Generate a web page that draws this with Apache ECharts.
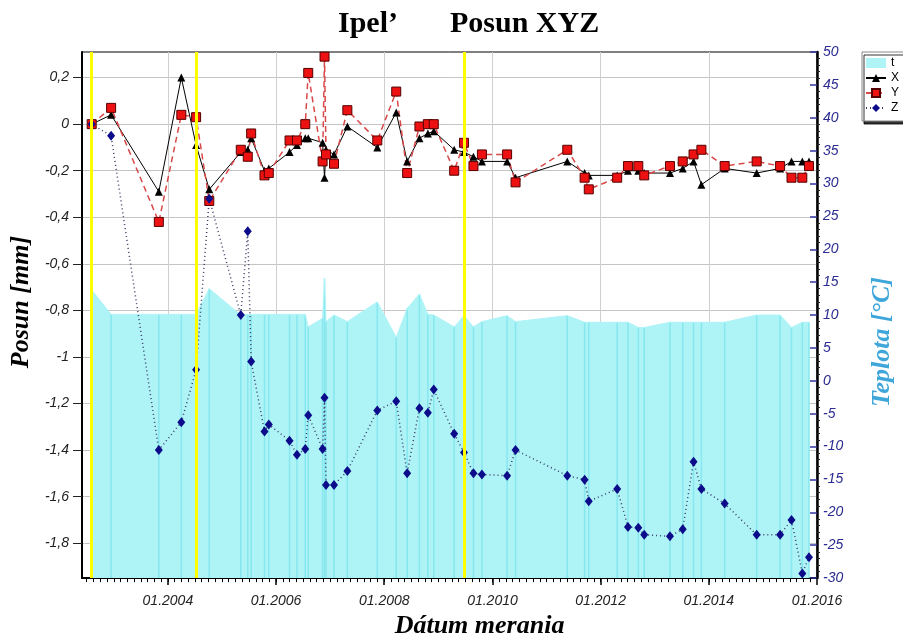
<!DOCTYPE html>
<html><head><meta charset="utf-8">
<script src="https://cdn.jsdelivr.net/npm/echarts@6/dist/echarts.min.js"></script>
<style>html,body{margin:0;padding:0;background:#fff}#c{width:903px;height:644px}</style>
</head><body><div id="c"></div>
<script>
// measurement dates
const dates = ['2002-08-05','2002-12-14','2003-11-01','2004-04-01','2004-07-10','2004-10-07','2005-05-08','2005-06-24','2005-07-17','2005-10-15','2005-11-13','2006-04-02','2006-05-22','2006-07-17','2006-08-06','2006-11-11','2006-11-24','2006-12-04','2007-01-27','2007-04-27','2007-11-15','2008-03-22','2008-06-04','2008-08-26','2008-10-22','2008-12-01','2009-04-18','2009-06-23','2009-08-26','2009-10-22','2010-04-10','2010-06-06','2011-05-21','2011-09-15','2011-10-13','2012-04-22','2012-07-04','2012-09-12','2012-10-22','2013-04-14','2013-07-09','2013-09-20','2013-11-12','2014-04-18','2014-11-20','2015-04-27','2015-07-13','2015-09-24','2015-11-08'];
// displacement [mm]
const posX = [0,0.04,-0.29,0.20,-0.09,-0.28,-0.12,-0.11,-0.06,-0.20,-0.19,-0.12,-0.09,-0.06,-0.06,-0.08,-0.23,-0.11,-0.13,-0.01,-0.10,0.05,-0.16,-0.06,-0.04,-0.03,-0.11,-0.12,-0.14,-0.16,-0.16,-0.23,-0.16,-0.21,-0.22,-0.22,-0.20,-0.20,-0.21,-0.21,-0.19,-0.16,-0.26,-0.19,-0.21,-0.19,-0.16,-0.16,-0.16];
const posY = [0,0.07,-0.42,0.04,0.03,-0.33,-0.11,-0.14,-0.04,-0.22,-0.21,-0.07,-0.07,0.0,0.22,-0.16,0.29,-0.13,-0.17,0.06,-0.07,0.14,-0.21,-0.01,0.0,0.0,-0.20,-0.08,-0.18,-0.13,-0.13,-0.25,-0.11,-0.23,-0.28,-0.23,-0.18,-0.18,-0.22,-0.18,-0.16,-0.13,-0.11,-0.18,-0.16,-0.18,-0.23,-0.23,-0.18];
const posZ = [0,-0.05,-1.40,-1.28,-1.055,-0.32,-0.82,-0.46,-1.02,-1.32,-1.29,-1.36,-1.42,-1.395,-1.25,-1.395,-1.175,-1.55,-1.55,-1.49,-1.23,-1.19,-1.50,-1.22,-1.24,-1.14,-1.33,-1.41,-1.50,-1.505,-1.51,-1.40,-1.51,-1.527,-1.62,-1.567,-1.73,-1.734,-1.764,-1.77,-1.74,-1.45,-1.567,-1.63,-1.764,-1.764,-1.70,-1.93,-1.86];
// temperature [°C]
const temp = [13.8,10.1,10.1,10.1,10.1,14.0,10.0,10.1,10.1,10.1,10.1,10.1,10.1,10.1,8.2,9.5,15.6,9.0,10.0,9.0,12.0,6.6,11.0,13.2,10.1,10.0,8.2,9.9,8.2,9.0,9.9,9.0,9.9,8.9,8.9,8.9,8.9,8.1,8.1,8.9,8.9,8.9,8.9,8.9,10.0,10.0,8.1,8.9,8.9];
// yellow event lines
const markDates = ['2002-08-05','2004-07-10','2009-06-23'];
// tick labels
const xTickYears = [2004,2006,2008,2010,2012,2014,2016];
const leftTicks = [-1.8,-1.6,-1.4,-1.2,-1,-0.8,-0.6,-0.4,-0.2,0,0.2];

const SANS = '"Liberation Sans", Arial, sans-serif';
const SERIF = '"Liberation Serif", "Times New Roman", serif';

function decYear(s){ const p=s.split('-').map(Number); const t=Date.UTC(p[0],p[1]-1,p[2]), t0=Date.UTC(p[0],0,1), t1=Date.UTC(p[0]+1,0,1); return p[0]+(t-t0)/(t1-t0); }
const xs = dates.map(decYear);
const pair = arr => xs.map((x,i)=>[x,arr[i]]);
const X_MIN = 2002.413, X_MAX = 2016;
const minorTicks = []; for (let v = 2002.5; v < X_MAX; v += 0.125) minorTicks.push(+v.toFixed(3));
const fmtL = v => String(+(+v).toFixed(2)).replace('.', ',');

const CYAN = '#aef4f7';
const nameStyle = {fontFamily: SERIF, fontSize: 26, fontWeight: 'bold', fontStyle: 'italic', color: '#000'};

const chart = echarts.init(document.getElementById('c'), null, {renderer: 'canvas'});
chart.setOption({
  animation: false,
  backgroundColor: '#fff',
  title: [
    {text: 'Ipel’', left: 333, top: 4, textStyle: {fontFamily: SERIF, fontSize: 30, fontWeight: 'bold', color: '#000'}},
    {text: 'Posun XYZ', left: 445, top: 4, textStyle: {fontFamily: SERIF, fontSize: 30, fontWeight: 'bold', color: '#000'}}
  ],
  legend: {
    orient: 'vertical', left: 862, top: 52, itemWidth: 20, itemHeight: 10, itemGap: 3,
    padding: [5, 6, 7, 3], backgroundColor: '#fff', borderColor: '#888', borderWidth: 1,
    shadowColor: 'rgba(0,0,0,0.8)', shadowOffsetX: 2, shadowOffsetY: 3, shadowBlur: 0,
    textStyle: {fontFamily: SANS, fontSize: 12, color: '#000'},
    data: [{name: 't', icon: 'rect', itemStyle: {color: CYAN}}, 'X', 'Y', 'Z']
  },
  grid: {left: 81, right: 77, top: 52, bottom: 64, show: true, borderColor: '#000', borderWidth: 1, backgroundColor: 'transparent'},
  xAxis: [
    {type: 'value', min: X_MIN, max: X_MAX, position: 'bottom',
     name: 'Dátum merania', nameLocation: 'middle', nameGap: 32,
     nameTextStyle: Object.assign({}, nameStyle, {padding: [0, 0, 0, 60]}),
     axisLine: {show: true, onZero: false, lineStyle: {color: '#000', width: 2}},
     axisTick: {show: true, customValues: xTickYears, length: 7, lineStyle: {color: '#000', width: 1.5}},
     axisLabel: {customValues: xTickYears, formatter: v => '01.' + Math.round(v), fontFamily: SANS, fontStyle: 'italic', fontSize: 14, color: '#222', margin: 16},
     splitLine: {show: true, lineStyle: {color: '#cfcfcf', width: 1}}},
    {type: 'value', min: X_MIN, max: X_MAX, position: 'bottom',
     axisLine: {show: false, onZero: false},
     axisTick: {show: true, customValues: minorTicks, length: 4, lineStyle: {color: '#000', width: 1}},
     axisLabel: {show: false}, splitLine: {show: false}}
  ],
  yAxis: [
    {type: 'value', min: -1.95, max: 0.31, position: 'left',
     name: 'Posun [mm]', nameLocation: 'middle', nameRotate: 90, nameGap: 44,
     nameTextStyle: Object.assign({}, nameStyle, {padding: [0, 0, 0, 26]}),
     axisLine: {show: true, onZero: false, lineStyle: {color: '#000', width: 2}},
     axisTick: {show: true, customValues: leftTicks, length: 9, lineStyle: {color: '#222'}},
     axisLabel: {customValues: leftTicks, formatter: fmtL, fontFamily: SANS, fontStyle: 'italic', fontSize: 14, color: '#222', margin: 13},
     splitLine: {show: true, lineStyle: {color: '#c4c4c4'}}},
    {type: 'value', min: -30, max: 50, interval: 5, position: 'right',
     name: 'Teplota [°C]', nameLocation: 'middle', nameRotate: 90, nameGap: 52,
     nameTextStyle: Object.assign({}, nameStyle, {color: '#3fa6da', padding: [0, 54, 0, 0]}),
     axisLine: {show: true, onZero: false, lineStyle: {color: '#000', width: 2.5}},
     axisTick: {show: true, inside: true, length: 7, lineStyle: {color: '#3535a0', width: 1.5}},
     axisLabel: {fontFamily: SANS, fontStyle: 'italic', fontSize: 14, color: '#2a2a90', margin: 6},
     splitLine: {show: false}},
    {type: 'value', min: -30, max: 50, interval: 5, position: 'right',
     axisLine: {show: false, onZero: false}, axisTick: {show: false}, axisLabel: {show: false}, splitLine: {show: false},
     minorTick: {show: true, splitNumber: 5, length: 3, lineStyle: {color: '#222'}}}
  ],
  series: [
    {name: 't', type: 'line', xAxisIndex: 0, yAxisIndex: 1, data: pair(temp), symbol: 'none', showSymbol: false,
     lineStyle: {color: CYAN, width: 1}, itemStyle: {color: CYAN},
     areaStyle: {color: CYAN, opacity: 1, origin: 'start'}, z: 1, silent: true,
     markLine: {silent: true, symbol: 'none', label: {show: false},
       lineStyle: {color: '#ffff00', width: 3, type: 'solid'},
       data: markDates.map(d => ({xAxis: decYear(d)}))}},
    {type: 'custom', xAxisIndex: 0, yAxisIndex: 1, data: pair(temp), z: 1, silent: true,
     encode: {x: 0, y: 1},
     renderItem: function (params, api) {
       const x = api.value(0), t = api.value(1);
       const p1 = api.coord([x, t]), p0 = api.coord([x, -30]);
       return {type: 'line', shape: {x1: p0[0], y1: p0[1], x2: p1[0], y2: p1[1]}, style: {stroke: '#86e7ee', lineWidth: 1.5}};
     }},
    {name: 'X', type: 'line', xAxisIndex: 0, yAxisIndex: 0, data: pair(posX), symbol: 'triangle', symbolSize: 8, showAllSymbol: true,
     lineStyle: {color: '#000', width: 1}, itemStyle: {color: '#000'}},
    {name: 'Y', type: 'line', xAxisIndex: 0, yAxisIndex: 0, data: pair(posY), symbol: 'rect', symbolSize: 9, showAllSymbol: true,
     lineStyle: {color: '#d94848', width: 1.5, type: [6, 4]}, itemStyle: {color: '#ee1111', borderColor: '#550000', borderWidth: 1}},
    {name: 'Z', type: 'line', xAxisIndex: 0, yAxisIndex: 0, data: pair(posZ), symbol: 'diamond', symbolSize: [8, 10], showAllSymbol: true,
     lineStyle: {color: '#3a3a6a', width: 1.5, type: [1, 3]}, itemStyle: {color: '#0c0c8a'}}
  ]
});
</script></body></html>
